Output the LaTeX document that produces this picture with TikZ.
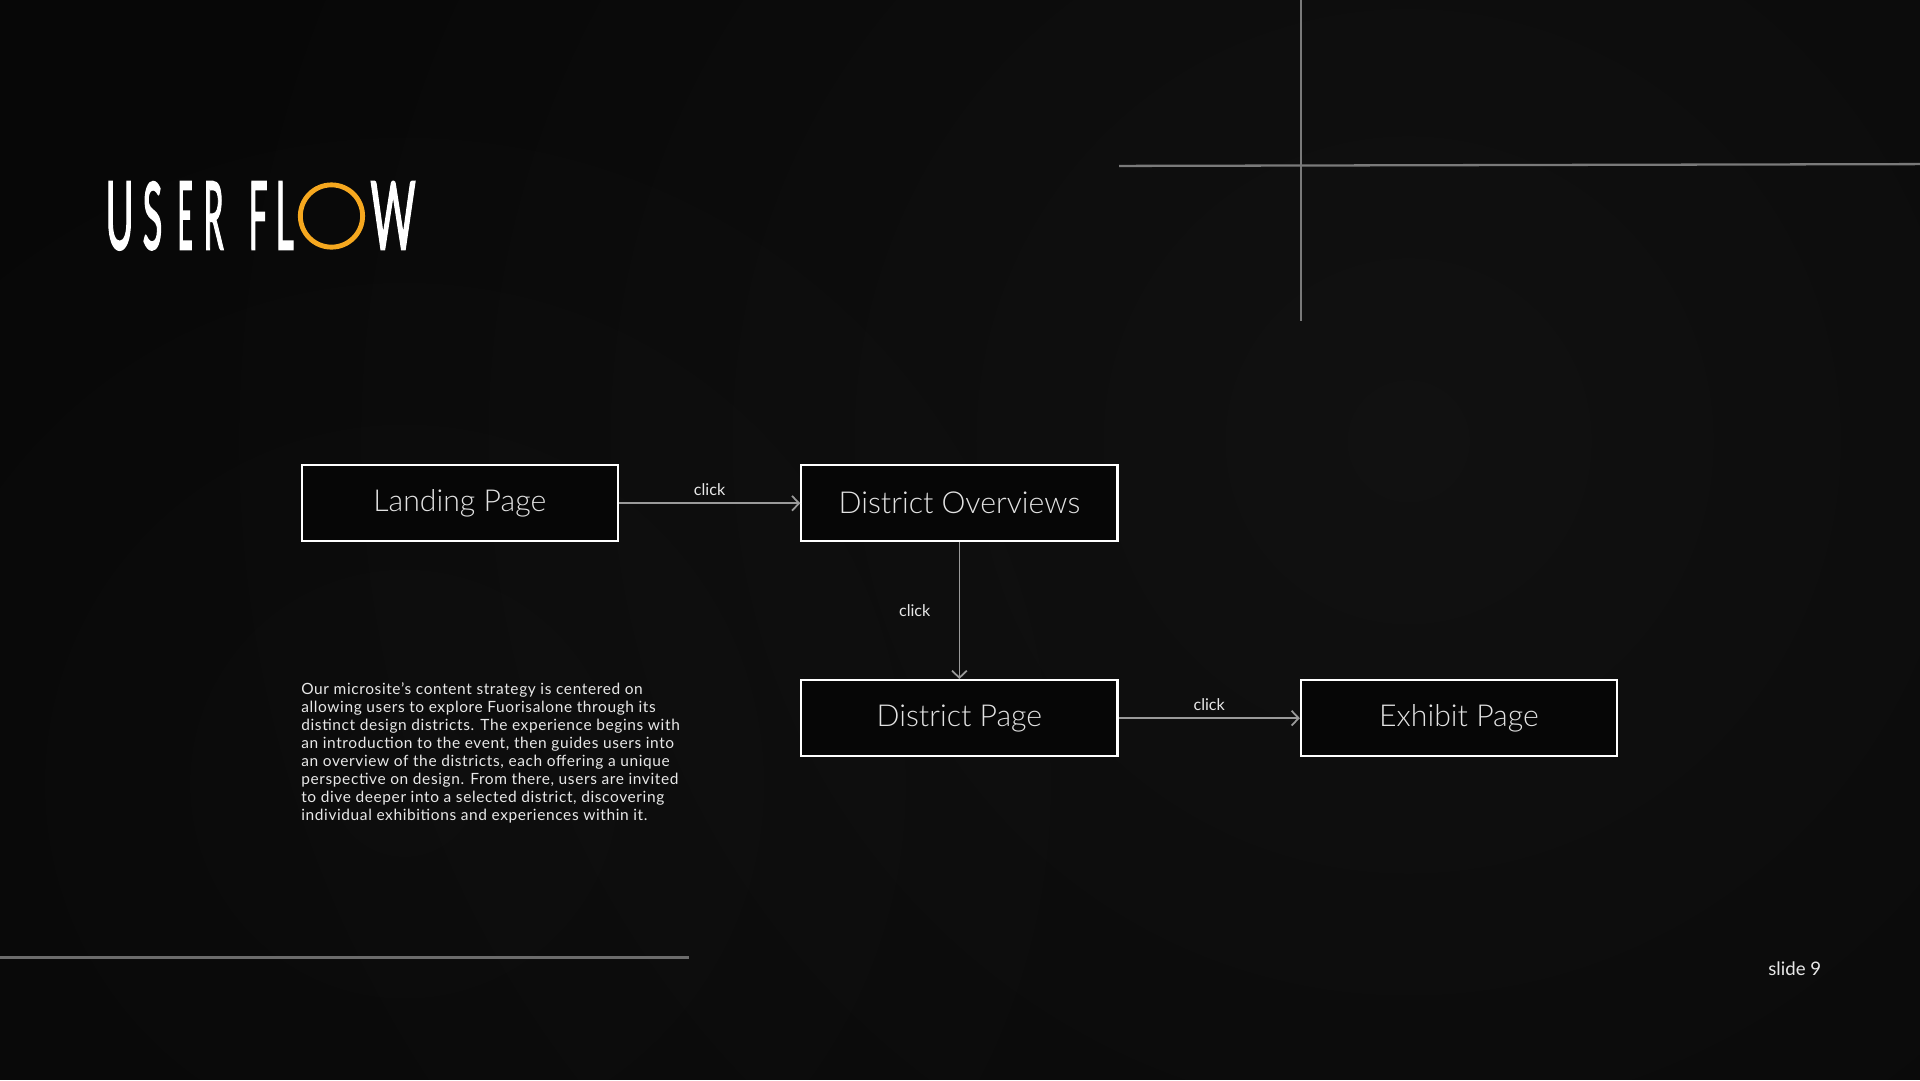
\documentclass[tikz,border=0pt]{standalone}
\usepackage{fontspec}
\setmainfont{Lato}
\newfontfamily\lightfont{Lato Light}
\newfontfamily\titlefont[FakeBold=2.5]{Lato}
\usetikzlibrary{arrows.meta,fadings}
\tikzfading[name=glowfade, inner color=transparent!0, outer color=transparent!100]
\definecolor{bg}{HTML}{070707}
\definecolor{decor}{HTML}{7A7A7A}
\definecolor{decorb}{HTML}{6C6C6C}
\definecolor{arrgray}{HTML}{9A9A9A}
\definecolor{boxfill}{HTML}{060606}
\definecolor{boxtext}{HTML}{E2E2E2}
\definecolor{bodytxt}{HTML}{E8E8E8}
\definecolor{flowO}{HTML}{F6A81F}
\tikzset{
  pagebox/.style={draw=white, line width=0.6pt, fill=boxfill,
    minimum width=89.9pt, minimum height=21.7pt, inner sep=0pt,
    font=\lightfont\fontsize{8.6pt}{10pt}\selectfont, text=boxtext},
  arr/.style={draw=arrgray, line width=0.5pt, -{Straight Barb[length=2pt,width=4.2pt]}},
  clicklbl/.style={font=\fontsize{4.6pt}{5pt}\selectfont, text=bodytxt, inner sep=0pt},
  bodytext/.style={font=\fontsize{4.4pt}{5.1pt}\selectfont\addfontfeatures{LetterSpace=4}, text=bodytxt, inner sep=0pt, align=left},
  ttl/.style={anchor=base west, inner sep=0pt, text=white, font=\titlefont\fontsize{26pt}{28pt}\selectfont},
  decoline/.style={draw=decor, line width=0.65pt},
  glowspot/.style={fill=white, path fading=glowfade},
}
\begin{document}
\begin{tikzpicture}[x=0.012245cm, y=-0.012245cm]
\useasboundingbox (0,0) rectangle (1568,882);
\fill[bg] (0,0) rectangle (1568,882);
\begin{scope}
  \clip (0,0) rectangle (1568,882);
  \fill[glowspot, opacity=0.045] (1150,360) circle (1100);
  \fill[glowspot, opacity=0.025] (330,640) circle (700);
\end{scope}

% decorative lines
\draw[decoline] (914,135.5) -- (1568,134);
\draw[decoline] (1062.5,0) -- (1062.5,262);
\draw[draw=decorb, line width=1pt] (0,782) -- (563,782);

% title
\node[ttl] (tU) at (85.7,203.4) {\resizebox{7.95pt}{19.1pt}{U}};
\node[ttl] (tS) at (116,203.4) {\resizebox{5.56pt}{19.1pt}{S}};
\node[ttl] (tE) at (144.5,203.4) {\resizebox{4.27pt}{19.1pt}{E}};
\node[ttl] (tR) at (165.8,203.4) {\resizebox{5.62pt}{19.1pt}{R}};
\node[ttl] (tF) at (202.5,203.4) {\resizebox{5.38pt}{19.1pt}{F}};
\node[ttl] (tL) at (224.6,203.4) {\resizebox{5.10pt}{19.1pt}{L}};
\node[circle, draw=flowO, line width=1.39pt, minimum size=17.7pt, inner sep=0pt] (tO) at (270.7,176.4) {};
\node[ttl] (tW) at (302,203.4) {\resizebox{12.85pt}{19.1pt}{W}};

% flow boxes
\node[pagebox] (lp) at (375.5,411) {Landing Page};
\node[pagebox] (do) at (783.5,411) {District Overviews};
\node[pagebox] (dp) at (783.5,586.5) {District Page};
\node[pagebox] (ep) at (1191.5,586.5) {Exhibit Page};

\draw[arr] (lp.east) -- node[clicklbl, above=2pt] {click} (do.west);
\draw[arr] (do.south) -- node[clicklbl, left=8pt] {click} (dp.north);
\draw[arr] (dp.east) -- node[clicklbl, above=2pt] {click} (ep.west);

% body text
\node[bodytext, anchor=north west] (body) at (245.5,557) {Our microsite’s content strategy is centered on\\
allowing users to explore Fuorisalone through its\\
distinct design districts. The experience begins with\\
an introduction to the event, then guides users into\\
an overview of the districts, each offering a unique\\
perspective on design. From there, users are invited\\
to dive deeper into a selected district, discovering\\
individual exhibitions and experiences within it.};

\node[anchor=base west, inner sep=0pt, text=bodytxt, font=\fontsize{5.3pt}{6pt}\selectfont] (slide) at (1443.6,797) {slide 9};
\end{tikzpicture}
\end{document}
